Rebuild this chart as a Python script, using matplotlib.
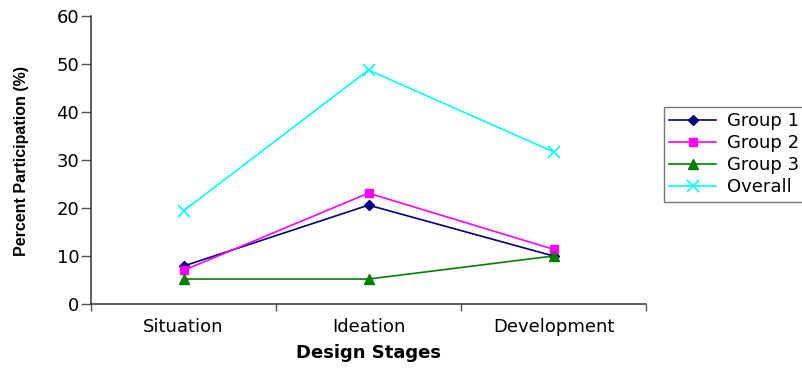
import matplotlib.pyplot as plt
import numpy as np

# participation by design stage (%)
stages = ['Situation', 'Ideation', 'Development']
group1 = [7.9, 20.6, 10.0]
group2 = [7.0, 23.1, 11.4]
group3 = [5.2, 5.2, 10.0]
overall = [19.4, 48.75, 31.7]

plt.rcParams['font.family'] = ['DejaVu Sans']

fig = plt.figure(figsize=(8.02, 3.70), dpi=100)
ax = fig.add_axes([91 / 802, 66 / 370, 555 / 802, 288 / 370])

x = np.arange(len(stages)) + 0.5
ax.plot(x, group1, color='#000080', marker='D', markersize=5.5, lw=1.2, label='Group 1')
ax.plot(x, group2, color='#ff00ff', marker='s', markersize=6, lw=1.2, label='Group 2')
ax.plot(x, group3, color='#008000', marker='^', markersize=7, lw=1.2, label='Group 3')
ax.plot(x, overall, color='#00ffff', marker='x', markersize=8, mew=1.2, lw=1.2, label='Overall')

ax.set_xlim(0, 3)
ax.set_ylim(0, 60)
ax.set_xticks([0, 1, 2, 3])
ax.set_xticklabels([])
ax.set_xticks(x, minor=True)
ax.set_xticklabels(stages, minor=True, fontsize=13)
ax.tick_params(axis='x', which='minor', length=0, pad=10)
ax.tick_params(axis='x', which='major', length=5, width=1, color='#555555')
ax.set_yticks(range(0, 61, 10))
ax.tick_params(axis='y', length=7, width=1, color='#555555', labelsize=13, pad=1.5)

for side in ['top', 'right']:
    ax.spines[side].set_visible(False)
for side in ['left', 'bottom']:
    ax.spines[side].set_color('#333333')
    ax.spines[side].set_linewidth(1.1)

ax.set_xlabel('Design Stages', fontsize=13, fontweight='bold', labelpad=6)
fig.text(0.027, 1 - 161 / 370, 'Percent Participation (%)', rotation=90,
         ha='center', va='center', fontsize=11.5, fontweight='bold',
         family=['Liberation Sans Narrow', 'Liberation Sans'])

leg = fig.legend(loc='upper left', bbox_to_anchor=(664 / 802, 1 - 107 / 370),
                 fontsize=13, frameon=True, fancybox=False, borderpad=0.3,
                 handlelength=2.6, handletextpad=0.6, labelspacing=0.22,
                 borderaxespad=0)
leg.get_frame().set_edgecolor('#555555')
leg.get_frame().set_linewidth(1.0)

fig.savefig('out.png', dpi=100)
